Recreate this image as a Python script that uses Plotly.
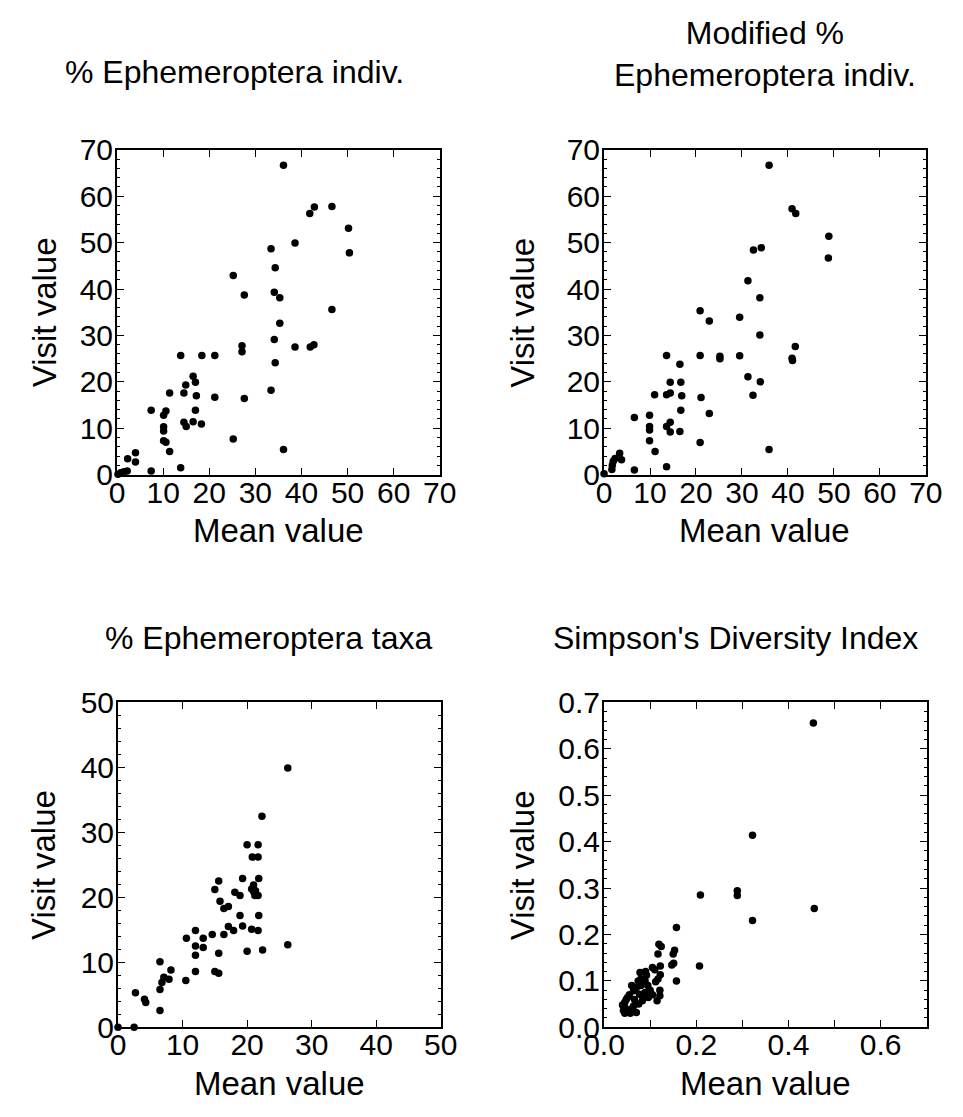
import plotly.graph_objects as go

# ---------------- data ----------------
ind_mean = [36.1, 41.8, 42.8, 46.6, 50.2, 50.4, 38.6, 33.4, 34.3, 25.2, 27.6, 34.1, 35.3, 46.6, 35.3,
            34.1, 38.6, 41.9, 42.7, 27.1, 27.1, 34.3, 13.8, 18.4, 21.2, 16.5, 17.0, 14.9, 14.5, 11.4,
            17.2, 21.2, 27.6, 33.4, 7.4, 10.6, 10.1, 17.0, 10.1, 10.1, 14.5, 15.0, 16.5, 18.3, 10.1,
            10.6, 11.4, 25.2, 36.1, 13.8, 7.4, 2.3, 4.0, 4.0, 2.2, 1.5, 0.8, 0.2]
ind_visit = [66.7, 56.3, 57.7, 57.8, 53.1, 47.8, 49.9, 48.7, 44.6, 42.9, 38.7, 39.3, 38.1, 35.6, 32.6,
             29.1, 27.5, 27.5, 28.0, 27.8, 26.5, 24.1, 25.7, 25.7, 25.7, 21.2, 19.9, 19.3, 17.6, 17.6,
             17.0, 16.7, 16.4, 18.2, 13.9, 13.7, 12.8, 13.9, 10.3, 9.4, 11.3, 10.4, 11.4, 10.9, 7.3,
             7.0, 5.0, 7.7, 5.4, 1.5, 0.8, 3.4, 4.7, 2.7, 0.8, 0.6, 0.4, 0.1]

mod_mean = [35.9, 40.9, 41.7, 48.9, 48.8, 32.5, 34.2, 31.3, 33.9, 20.9, 22.9, 29.5, 33.9, 41.6, 40.9,
            41.0, 25.2, 25.2, 29.5, 20.9, 13.6, 16.5, 31.3, 34.0, 32.4, 14.4, 16.7, 13.6, 14.4, 11.0,
            16.9, 21.1, 16.7, 22.9, 6.6, 9.9, 9.9, 9.9, 14.4, 13.6, 14.4, 16.5, 9.9, 11.1, 20.9,
            35.9, 13.6, 6.6, 3.4, 2.4, 2.0, 3.8, 1.8, 1.7, 0.0]
mod_visit = [66.7, 57.3, 56.3, 51.4, 46.7, 48.4, 48.9, 41.8, 38.1, 35.3, 33.1, 33.9, 30.1, 27.6, 25.1,
             24.6, 25.5, 25.0, 25.6, 25.7, 25.7, 23.8, 21.1, 20.0, 17.1, 19.9, 19.9, 17.2, 17.6, 17.2,
             17.0, 16.6, 13.9, 13.2, 12.3, 12.8, 10.4, 9.6, 11.3, 10.4, 9.2, 9.3, 7.3, 5.0, 6.9,
             5.4, 1.7, 1.0, 4.6, 3.5, 2.9, 3.2, 2.0, 1.1, 0.2]

taxa_mean = [26.3, 26.3, 22.3, 22.4, 20.0, 21.7, 20.8, 21.7, 15.6, 19.3, 21.8, 15.0, 18.1, 18.9, 21.0,
             21.0, 21.2, 21.7, 20.7, 21.3, 15.8, 16.4, 17.1, 18.9, 21.8, 17.1, 17.9, 19.3, 20.7, 21.7,
             16.4, 14.6, 12.0, 10.6, 13.2, 12.0, 13.2, 12.0, 15.6, 20.0, 15.0, 15.6, 12.0, 6.5, 6.8,
             7.1, 7.9, 8.2, 10.5, 6.5, 6.5, 4.1, 4.3, 2.7, 2.5, 0.0]
taxa_visit = [39.9, 12.7, 32.5, 11.9, 28.1, 28.1, 26.2, 26.2, 22.5, 22.9, 22.9, 21.2, 20.8, 20.3, 21.9,
              20.9, 20.3, 20.3, 21.3, 21.0, 19.4, 18.3, 18.6, 17.2, 17.2, 15.5, 14.9, 15.6, 15.1, 14.9,
              14.3, 14.3, 14.9, 13.7, 13.7, 12.5, 12.3, 11.1, 11.4, 11.7, 8.6, 8.3, 8.6, 10.1, 6.9,
              7.7, 7.4, 8.8, 7.2, 5.8, 2.6, 4.3, 3.8, 5.3, 0.0, 0.0]

simp_mean = [0.454, 0.322, 0.322, 0.456, 0.289, 0.289, 0.209, 0.207, 0.157, 0.119, 0.124, 0.117, 0.150,
             0.153, 0.147, 0.151, 0.122, 0.105, 0.110, 0.122, 0.157, 0.090, 0.092, 0.074, 0.080, 0.112,
             0.089, 0.117, 0.121, 0.115, 0.121, 0.096, 0.083, 0.089, 0.077, 0.064, 0.070, 0.051, 0.045,
             0.045, 0.051, 0.064, 0.070, 0.057, 0.042, 0.040, 0.048, 0.060, 0.066, 0.075, 0.080, 0.100,
             0.085, 0.055, 0.045, 0.060, 0.078, 0.095, 0.105]
simp_visit = [0.656, 0.414, 0.230, 0.256, 0.294, 0.284, 0.285, 0.132, 0.215, 0.179, 0.174, 0.158, 0.158,
              0.166, 0.134, 0.138, 0.132, 0.129, 0.124, 0.113, 0.100, 0.120, 0.112, 0.100, 0.104, 0.098,
              0.100, 0.104, 0.080, 0.057, 0.068, 0.064, 0.057, 0.075, 0.071, 0.079, 0.085, 0.064, 0.054,
              0.043, 0.036, 0.046, 0.032, 0.030, 0.036, 0.048, 0.060, 0.040, 0.060, 0.050, 0.090, 0.080,
              0.065, 0.070, 0.030, 0.090, 0.118, 0.090, 0.070]

titles = ["% Ephemeroptera indiv.", "Modified %<br>Ephemeroptera indiv.",
          "% Ephemeroptera taxa", "Simpson's Diversity Index"]
x_label = "Mean value"
y_label = "Visit value"

# ---------------- layout ----------------
W, H = 963, 1117
FONT = "Liberation Sans, Arial, sans-serif"

def px(x):
    return x / W

def py(y):
    return 1 - y / H

# plot boxes in pixels: (left, right, top, bottom)
boxes = [(100, 436, 137, 472), (607, 942, 137, 472), (101, 437, 707, 1042), (607, 943, 707, 1042)]
title_pos = [(222, 57), (775, 38), (258, 640), (744, 640)]
ylab_x = [24, 522, 24, 522]

series = [(ind_mean, ind_visit), (mod_mean, mod_visit), (taxa_mean, taxa_visit), (simp_mean, simp_visit)]

fig = go.Figure()
layout = dict(width=W, height=H, margin=dict(l=0, r=0, t=0, b=0),
              paper_bgcolor="white", plot_bgcolor="white", showlegend=False,
              font=dict(family=FONT, color="black"))

ranges = [(0, 70), (0, 70), (0, 50), (0, 0.7)]
minor_step = [2, 2, 2, 0.02]
annotations = []
for i, ((xs, ys), (l, r, t, b), rg) in enumerate(zip(series, boxes, ranges)):
    n = "" if i == 0 else str(i + 1)
    fig.add_trace(go.Scatter(x=xs, y=ys, mode="markers", xaxis="x" + n, yaxis="y" + n,
                             marker=dict(color="black", size=7.5), cliponaxis=False, hoverinfo="x+y"))
    if i == 3:
        vals = [0.0, 0.1, 0.2, 0.3, 0.4, 0.5, 0.6, 0.7]
        xtext = ["0.0", "", "0.2", "", "0.4", "", "0.6", ""]
        ytext = ["0.0", "0.1", "0.2", "0.3", "0.4", "0.5", "0.6", "0.7"]
    else:
        step = 10
        vals = list(range(rg[0], rg[1] + 1, step))
        xtext = [str(v) for v in vals]
        ytext = [str(v) for v in vals]
    common = dict(range=list(rg), showgrid=False, zeroline=False, showline=True, linecolor="black",
                  linewidth=2, mirror="ticks", ticks="inside", ticklen=7, tickwidth=1,
                  tickcolor="black", tickvals=vals, tickfont=dict(size=30, family=FONT, color="black"),
                  fixedrange=True)
    layout["xaxis" + n] = dict(common, domain=[px(l), px(r)], anchor="y" + n, ticktext=xtext,
                               ticklabelstandoff=-10)
    layout["yaxis" + n] = dict(common, domain=[py(b), py(t)], anchor="x" + n, ticktext=ytext,
                               ticklabelstandoff=-4,
                               minor=dict(ticks="inside", ticklen=3, tickwidth=1, tickcolor="black",
                                          dtick=minor_step[i], showgrid=False))
    tx, ty = title_pos[i]
    annotations.append(dict(text=titles[i], x=px(tx), y=py(ty), xref="paper", yref="paper",
                            showarrow=False, xanchor="center", yanchor="middle",
                            font=dict(size=32, family=FONT, color="black")))
    annotations.append(dict(text=y_label, x=px(ylab_x[i]), y=py((t + b) / 2), xref="paper", yref="paper",
                            showarrow=False, textangle=-90, xanchor="center", yanchor="middle",
                            font=dict(size=33, family=FONT, color="black")))
    annotations.append(dict(text=x_label, x=px((l + r) / 2), y=py(b + 58), xref="paper", yref="paper",
                            showarrow=False, xanchor="center", yanchor="middle",
                            font=dict(size=33, family=FONT, color="black")))

layout["annotations"] = annotations
fig.update_layout(**layout)
fig.write_html("out.html")
